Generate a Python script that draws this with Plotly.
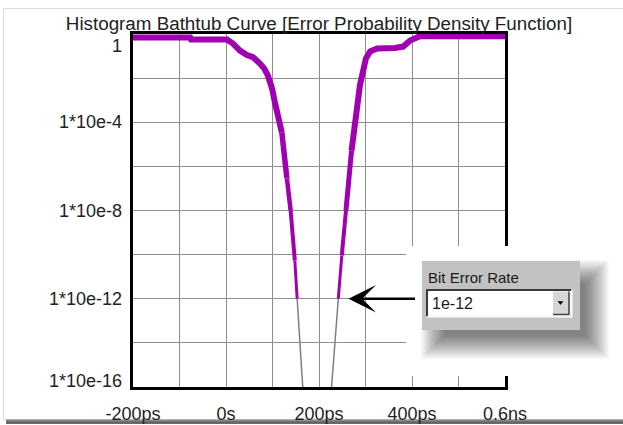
import plotly.graph_objects as go
import math

# ---------------- data ----------------
title_text = "Histogram Bathtub Curve [Error Probability Density Function]"

x_tick_vals = [-200, -100, 0, 100, 200, 300, 400, 500, 600]
x_tick_text = ["-200ps", "", "0s", "", "200ps", "", "400ps", "", "0.6ns"]

y_grid_vals = [1e-16, 1e-14, 1e-12, 1e-10, 1e-8, 1e-6, 1e-4, 1e-2, 1]
y_label_vals = [1, 1e-4, 1e-8, 1e-12, 1e-16]
y_label_text = ["1", "1*10e-4", "1*10e-8", "1*10e-12", "1*10e-16"]

# left edge of the bathtub (ps, probability), from top to bottom
left_x = [-200, -77, -75, 2, 15, 30, 45, 58, 73, 82, 90, 99, 105, 112, 120,
          123, 131, 139, 148, 153, 159, 165]
left_y = [0.69, 0.69, 0.56, 0.56, 0.37, 0.178, 0.112, 0.089, 0.046, 0.0275,
          0.0132, 3.4e-3, 8.1e-4, 2.0e-4, 3.5e-5, 7.4e-6, 2.8e-7, 1e-8,
          5.4e-11, 1e-12, 9.3e-15, 1e-16]

# right edge of the bathtub, from bottom to top
right_x = [227, 234, 241.5, 249, 258, 270, 277, 282, 288, 295, 301, 310, 325,
           363, 381, 396, 411, 417, 600]
right_y = [1e-16, 9.3e-15, 1e-12, 9.1e-11, 1e-8, 5.2e-6, 1.2e-4, 9.8e-4,
           4.7e-3, 0.022, 0.078, 0.162, 0.219, 0.234, 0.269, 0.51, 0.8, 0.8,
           0.8]

ber_value = 1e-12
ber_label = "Bit Error Rate"
ber_text = "1e-12"

# ---------------- layout geometry ----------------
W, H = 623, 425
ML, MR, MT, MB = 133, 118, 34, 38
PW = W - ML - MR
PH = H - MT - MB

MAGENTA = "#a000b0"
GREY_LINE = "#808080"
FONT = "Liberation Sans, Arial, sans-serif"


def px(x):
    return (x - ML) / PW


def py(y):
    return (H - MB - y) / PH


def style_for(y_hi, y_lo):
    # line gets thinner as the probability falls; grey below the BER
    if y_lo < ber_value:
        return (GREY_LINE, 1.5)
    e = math.log10(y_hi)
    w = min(5.8, 2.4 + (e + 12) * 0.42)
    return (MAGENTA, round(w * 2) / 2)


fig = go.Figure()


def add_curve(xs, ys):
    runs = []
    for i in range(len(xs) - 1):
        st = style_for(max(ys[i], ys[i + 1]), min(ys[i], ys[i + 1]))
        if runs and runs[-1][0] == st:
            runs[-1][1].append(xs[i + 1])
            runs[-1][2].append(ys[i + 1])
        else:
            runs.append([st, [xs[i], xs[i + 1]], [ys[i], ys[i + 1]]])
    for st, rx, ry in runs:
        fig.add_trace(go.Scatter(x=rx, y=ry, mode="lines",
                                 line=dict(color=st[0], width=st[1]),
                                 hoverinfo="skip", showlegend=False))


add_curve(left_x, left_y)
add_curve(right_x, right_y)

shapes = []

# outer picture frame
shapes.append(dict(type="rect", xref="paper", yref="paper",
                   x0=px(3.5), x1=px(640), y0=py(8.5), y1=py(420),
                   line=dict(color="#dcdcdc", width=1), layer="below"))
for k, c in enumerate(["#b0b0b0", "#8a8a8a", "#707070", "#666666", "#6a6a6a"]):
    shapes.append(dict(type="rect", xref="paper", yref="paper",
                       x0=px(6), x1=px(640), y0=py(419 + k), y1=py(420 + k),
                       fillcolor=c, line=dict(width=0), layer="below"))

# white area under the popup (hides grid near it)
shapes.append(dict(type="rect", xref="paper", yref="paper",
                   x0=px(406), x1=px(620), y0=py(246), y1=py(376),
                   fillcolor="white", line=dict(width=0), layer="above"))

# soft shadow of the popup
bx0, by0, bx1, by1 = 422, 261, 580, 330
n_steps = 22
for k in range(n_steps):
    e = 15 - 1.15 * k
    shapes.append(dict(type="rect", xref="paper", yref="paper",
                       x0=px(bx0 + 14 - e), x1=px(bx1 + 14 + e),
                       y0=py(by0 + 14 - e), y1=py(by1 + 14 + e),
                       fillcolor="rgba(0,0,0,0.026)", line=dict(width=0),
                       layer="above"))

# popup panel
shapes.append(dict(type="rect", xref="paper", yref="paper",
                   x0=px(bx0), x1=px(bx1), y0=py(by0), y1=py(by1),
                   fillcolor="#c2c2c2", line=dict(width=0), layer="above"))
# input field
fx0, fy0, fx1, fy1 = 426, 289, 572, 317
shapes.append(dict(type="rect", xref="paper", yref="paper",
                   x0=px(fx0), x1=px(fx1), y0=py(fy0), y1=py(fy1),
                   fillcolor="white", line=dict(width=0), layer="above"))
shapes.append(dict(type="path", xref="paper", yref="paper",
                   path=f"M{px(fx0+1)},{py(fy1)} L{px(fx0+1)},{py(fy0+1)} L{px(fx1)},{py(fy0+1)}",
                   line=dict(color="#3a3a3a", width=2), layer="above"))
shapes.append(dict(type="path", xref="paper", yref="paper",
                   path=f"M{px(fx0)},{py(fy1)} L{px(fx1)},{py(fy1)} L{px(fx1)},{py(fy0)}",
                   line=dict(color="#f0f0f0", width=1.5), layer="above"))
# dropdown button
shapes.append(dict(type="rect", xref="paper", yref="paper",
                   x0=px(553), x1=px(569), y0=py(291.5), y1=py(314.5),
                   fillcolor="#d6d6d6", line=dict(width=0), layer="above"))
shapes.append(dict(type="path", xref="paper", yref="paper",
                   path=f"M{px(553)},{py(314.5)} L{px(569)},{py(314.5)} L{px(569)},{py(291.5)}",
                   line=dict(color="#404040", width=1.5), layer="above"))
shapes.append(dict(type="path", xref="paper", yref="paper",
                   path=f"M{px(558)},{py(301.5)} L{px(563)},{py(301.5)} L{px(560.5)},{py(304.5)} Z",
                   fillcolor="black", line=dict(color="black", width=0.5),
                   layer="above"))

annotations = []
for v, t in zip(y_label_vals, y_label_text):
    shift = 0
    if v == y_label_vals[0]:
        shift = -11.5
    elif v == y_label_vals[-1]:
        shift = 6.5
    annotations.append(dict(x=0, xref="paper", y=math.log10(v), yref="y",
                            text=t, showarrow=False, xanchor="right",
                            yanchor="middle", xshift=-9, yshift=shift,
                            font=dict(family=FONT, size=18, color="#222")))

annotations.append(dict(x=px(426), xref="paper", y=py(277.5), yref="paper",
                        text=ber_label, showarrow=False, xanchor="left",
                        yanchor="middle",
                        font=dict(family=FONT, size=15, color="#1a1a1a")))
annotations.append(dict(x=px(430), xref="paper", y=py(303.5), yref="paper",
                        text=ber_text, showarrow=False, xanchor="left",
                        yanchor="middle",
                        font=dict(family=FONT, size=16, color="#1a1a1a")))
# arrow pointing at the BER crossing
annotations.append(dict(x=px(348.5), xref="paper", y=math.log10(ber_value),
                        yref="y", ax=68, ay=0, axref="pixel", ayref="pixel",
                        showarrow=True, arrowhead=3, arrowsize=1.7,
                        arrowwidth=2.7, arrowcolor="black", text="",
                        standoff=0))

fig.update_layout(
    width=W, height=H, autosize=False,
    margin=dict(l=ML, r=MR, t=MT, b=MB, pad=0, autoexpand=False),
    paper_bgcolor="white", plot_bgcolor="white",
    title=dict(text=title_text, x=px(319), xref="paper", xanchor="center",
               y=1 - 23 / H, yref="container", yanchor="middle",
               font=dict(family=FONT, size=18.8, color="#222")),
    xaxis=dict(range=[-200, 600], tickvals=x_tick_vals, ticktext=x_tick_text,
               showgrid=True, gridcolor="#8e8e8e", gridwidth=1.3,
               showline=True, linecolor="black", linewidth=2.5, mirror=True,
               ticks="", ticklabelstandoff=9, zeroline=False, automargin=False,
               tickfont=dict(family=FONT, size=18, color="#222")),
    yaxis=dict(type="log", range=[-16, 0], tickvals=y_grid_vals,
               showticklabels=False, showgrid=True, gridcolor="#8e8e8e",
               gridwidth=1.3, showline=True, linecolor="black", linewidth=2.5,
               mirror=True, ticks="", zeroline=False, automargin=False),
    shapes=shapes,
    annotations=annotations,
    showlegend=False,
)

fig.write_html(
    "out.html",
    config={"displayModeBar": False},
    post_script="document.body.style.margin='0';document.body.style.overflow='hidden';",
)
